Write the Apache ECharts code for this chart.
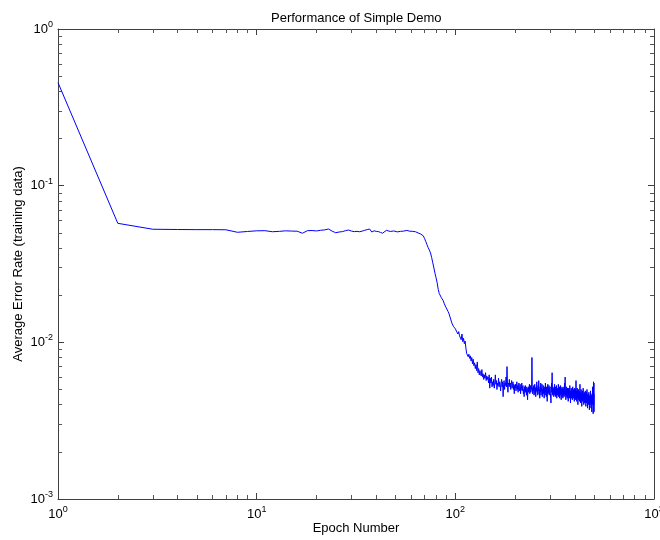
<!DOCTYPE html>
<html>
<head>
<meta charset="utf-8">
<script src="https://cdn.jsdelivr.net/npm/echarts@6/dist/echarts.min.js"></script>
<style>
html,body{margin:0;padding:0;background:#fff;}
#chart{width:660px;height:540px;}
</style>
</head>
<body>
<div id="chart"></div>
<script>
// ---- Data ----
const chartTitle = 'Performance of Simple Demo';
const xName = 'Epoch Number';
const yName = 'Average Error Rate (training data)';

// average error rate for epochs 1..500
const errorRate = [
0.455,0.0575,0.0527,0.0525,0.0524,0.0524,0.0523,0.0504,0.0510,0.0515,
0.0516,0.0508,0.0511,0.0515,0.0513,0.0512,0.0497,0.0516,0.0517,0.0514,
0.0519,0.0522,0.0529,0.0512,0.0501,0.0506,0.0509,0.0516,0.0521,0.0513,
0.0509,0.0511,0.0508,0.0513,0.0519,0.0524,0.0529,0.0506,0.0515,0.0511,
0.0509,0.0503,0.0497,0.0487,0.0519,0.0522,0.0510,0.0506,0.0514,0.0512,
0.0507,0.0516,0.0511,0.0509,0.0513,0.0505,0.0518,0.0526,0.0512,0.0507,
0.0511,0.0503,0.0508,0.0502,0.0499,0.0497,0.0491,0.0485,0.0478,0.0460,
0.0440,0.0420,0.0402,0.0388,0.0372,0.0348,0.0322,0.0298,0.0276,0.0258,
0.0240,0.0218,0.0205,0.0200,0.0193,0.0189,0.0184,0.0176,0.0171,0.0166,
0.0162,0.0157,0.0152,0.0150,0.0139,0.0133,0.0134,0.0126,0.0128,0.0122,
0.0121,0.0125,0.0113,0.0117,0.0110,0.0112,0.0104,0.0113,0.0101,0.0106,
0.0098,0.0102,0.0092,0.0085,0.0087,0.0081,0.0084,0.0079,0.0082,0.0076,
0.0080,0.0073,0.0078,0.0071,0.0074,0.0068,0.0072,0.0066,0.0075,0.0064,
0.0068,0.0062,0.0066,0.0063,0.0061,0.0067,0.0060,0.0063,0.0058,0.0062,
0.0059,0.0064,0.0057,0.0061,0.0058,0.0060,0.0055,0.0062,0.0051,0.0059,
0.0055,0.0060,0.0052,0.0056,0.0053,0.0058,0.0051,0.0055,0.0062,0.0054,
0.0057,0.0050,0.0055,0.0053,0.0059,0.0052,0.0056,0.0054,0.0049,0.0055,
0.0058,0.0052,0.0056,0.0045,0.0054,0.0057,0.0050,0.0055,0.0053,0.0060,
0.0052,0.0070,0.0054,0.0048,0.0055,0.0053,0.0058,0.0052,0.0055,0.0050,
0.0054,0.0057,0.0051,0.0053,0.0056,0.0050,0.0054,0.0047,0.0053,0.0051,
0.0054,0.0049,0.0052,0.0056,0.0050,0.0053,0.0048,0.0052,0.0055,0.0049,
0.0051,0.0054,0.0047,0.0052,0.0050,0.0055,0.0049,0.0051,0.0053,0.0047,
0.0050,0.0045,0.0052,0.0049,0.0053,0.0048,0.0050,0.0046,0.0052,0.0049,
0.0043,0.0051,0.0048,0.0052,0.0049,0.0054,0.0047,0.0050,0.0053,0.0048,
0.0052,0.0050,0.0080,0.0052,0.0047,0.0051,0.0049,0.0053,0.0046,0.0050,
0.0054,0.0047,0.0051,0.0045,0.0052,0.0049,0.0056,0.0048,0.0051,0.0046,
0.0053,0.0049,0.0057,0.0047,0.0050,0.0044,0.0052,0.0048,0.0055,0.0046,
0.0051,0.0049,0.0054,0.0045,0.0050,0.0048,0.0053,0.0047,0.0051,0.0044,
0.0050,0.0052,0.0046,0.0055,0.0048,0.0050,0.0045,0.0052,0.0049,0.0042,
0.0050,0.0054,0.0047,0.0051,0.0048,0.0053,0.0046,0.0050,0.0049,0.0052,
0.0047,0.0044,0.0041,0.0050,0.0055,0.0048,0.0064,0.0049,0.0046,0.0052,
0.0048,0.0050,0.0045,0.0051,0.0047,0.0054,0.0046,0.0049,0.0052,0.0045,
0.0050,0.0047,0.0053,0.0044,0.0049,0.0051,0.0046,0.0050,0.0048,0.0054,
0.0045,0.0049,0.0047,0.0052,0.0044,0.0050,0.0048,0.0053,0.0046,0.0049,
0.0043,0.0050,0.0047,0.0052,0.0045,0.0049,0.0051,0.0044,0.0048,0.0050,
0.0046,0.0052,0.0045,0.0049,0.0055,0.0047,0.0060,0.0046,0.0049,0.0043,
0.0050,0.0047,0.0052,0.0045,0.0048,0.0044,0.0051,0.0047,0.0049,0.0042,
0.0048,0.0051,0.0046,0.0050,0.0044,0.0048,0.0053,0.0045,0.0047,0.0041,
0.0049,0.0046,0.0051,0.0044,0.0048,0.0045,0.0050,0.0043,0.0047,0.0052,
0.0045,0.0048,0.0044,0.0050,0.0046,0.0049,0.0042,0.0047,0.0051,0.0045,
0.0048,0.0043,0.0050,0.0046,0.0057,0.0045,0.0048,0.0042,0.0049,0.0046,
0.0051,0.0044,0.0047,0.0040,0.0048,0.0045,0.0050,0.0043,0.0047,0.0044,
0.0049,0.0042,0.0046,0.0054,0.0044,0.0047,0.0041,0.0048,0.0045,0.0050,
0.0043,0.0046,0.0039,0.0047,0.0044,0.0049,0.0042,0.0046,0.0043,0.0051,
0.0044,0.0046,0.0040,0.0047,0.0043,0.0048,0.0045,0.0041,0.0047,0.0044,
0.0049,0.0042,0.0045,0.0039,0.0046,0.0043,0.0048,0.0041,0.0045,0.0050,
0.0042,0.0044,0.0038,0.0046,0.0043,0.0047,0.0040,0.0044,0.0042,0.0048,
0.0041,0.0044,0.0037,0.0045,0.0042,0.0046,0.0040,0.0043,0.0049,0.0041,
0.0044,0.0038,0.0046,0.0042,0.0045,0.0036,0.0043,0.0047,0.0040,0.0044,
0.0052,0.0041,0.0045,0.0035,0.0044,0.0056,0.0040,0.0047,0.0036,0.0055
];

// tick positions and labels
const xMajorTicks = [1, 10, 100, 1000];
const xTickExponents = ['0', '1', '2', '3'];
const xMinorTicks = [2,3,4,5,6,7,8,9, 20,30,40,50,60,70,80,90, 200,300,400,500,600,700,800,900];
const yMajorTicks = [0.001, 0.01, 0.1, 1];
const yTickExponents = ['-3', '-2', '-1', '0'];
const yMinorTicks = [0.002,0.003,0.004,0.005,0.006,0.007,0.008,0.009,
                     0.02,0.03,0.04,0.05,0.06,0.07,0.08,0.09,
                     0.2,0.3,0.4,0.5,0.6,0.7,0.8,0.9];

// ---- Chart ----
const FONT = '"Liberation Sans", Arial, sans-serif';
const AXIS_COLOR = '#404040';
const MINOR_COLOR = '#555555';
const rich = {
  b: { fontSize: 13, fontFamily: FONT, color: '#000', lineHeight: 18 },
  s: { fontSize: 9, fontFamily: FONT, color: '#000', verticalAlign: 'top', lineHeight: 10 }
};
function powLabel(majors, exps) {
  return function (v) {
    let idx = -1;
    for (let i = 0; i < majors.length; i++) {
      if (Math.abs(v - majors[i]) / majors[i] < 1e-6) idx = i;
    }
    if (idx < 0) return '';
    return '{b|10}{s|' + exps[idx] + '}';
  };
}

function makeAxis(kind, position, isMajor, showLabel, extra) {
  const isX = kind === 'x';
  const majors = isX ? xMajorTicks : yMajorTicks;
  const minors = isX ? xMinorTicks : yMinorTicks;
  const ax = {
    type: 'log',
    logBase: 10,
    min: isX ? 1 : 0.001,
    max: isX ? 1000 : 1,
    position: position,
    gridIndex: 0,
    axisLine: { show: isMajor, onZero: false, lineStyle: { color: AXIS_COLOR, width: 1 } },
    axisTick: {
      show: true, inside: true, length: isMajor ? 6 : 4,
      customValues: isMajor ? majors : minors,
      lineStyle: { color: isMajor ? AXIS_COLOR : MINOR_COLOR, width: 1 }
    },
    axisLabel: showLabel ? {
      show: true,
      customValues: majors,
      formatter: powLabel(majors, isX ? xTickExponents : yTickExponents),
      rich: rich,
      margin: isX ? 6 : 5
    } : { show: false },
    splitLine: { show: false },
    minorTick: { show: false },
    minorSplitLine: { show: false },
    silent: true
  };
  return Object.assign(ax, extra || {});
}

const chart = echarts.init(document.getElementById('chart'), null, { renderer: 'canvas' });
const lineData = errorRate.map((v, i) => [i + 1, v]);

chart.setOption({
  animation: false,
  backgroundColor: '#fff',
  textStyle: { fontFamily: FONT },
  title: {
    text: chartTitle,
    left: 266,
    top: 7,
    textStyle: { fontSize: 13, fontWeight: 'normal', color: '#000', fontFamily: FONT }
  },
  grid: { left: 58, right: 6, top: 29, bottom: 41, containLabel: false, outerBoundsMode: 'none' },
  xAxis: [
    makeAxis('x', 'bottom', true, true, {
      name: xName, nameLocation: 'middle', nameGap: 23, nameMoveOverlap: false,
      nameTextStyle: { fontSize: 13, color: '#000', fontFamily: FONT }
    }),
    makeAxis('x', 'bottom', false, false),
    makeAxis('x', 'top', true, false),
    makeAxis('x', 'top', false, false)
  ],
  yAxis: [
    makeAxis('y', 'left', true, true, {
      name: yName, nameLocation: 'middle', nameGap: 33, nameMoveOverlap: false,
      nameTextStyle: { fontSize: 13, color: '#000', fontFamily: FONT }
    }),
    makeAxis('y', 'left', false, false),
    makeAxis('y', 'right', true, false),
    makeAxis('y', 'right', false, false)
  ],
  series: [{
    type: 'line',
    xAxisIndex: 0,
    yAxisIndex: 0,
    data: lineData,
    showSymbol: false,
    symbol: 'none',
    lineStyle: { color: '#0000ff', width: 1 },
    silent: true
  }]
});
</script>
</body>
</html>
